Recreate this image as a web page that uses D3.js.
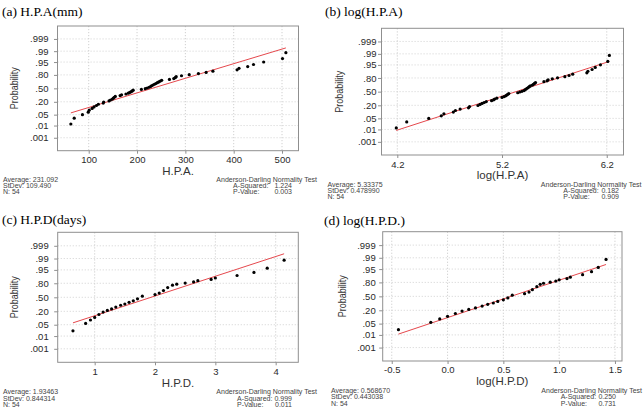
<!DOCTYPE html>
<html><head><meta charset="utf-8">
<script src="https://cdn.jsdelivr.net/npm/d3@7"></script>
<style>body{margin:0;background:#fff}svg{display:block}</style>
</head><body>
<svg id="chart" width="643" height="411"></svg>
<script>
// ---------------- data ----------------
const probTicks = [0.001, 0.01, 0.05, 0.20, 0.50, 0.80, 0.95, 0.99, 0.999];
const probTickLabels = [".001", ".01", ".05", ".20", ".50", ".80", ".95", ".99", ".999"];

const panelTitles = ["(a) H.P.A(mm)", "(b) log(H.P.A)", "(c) H.P.D(days)", "(d) log(H.P.D.)"];
const axisTitles = ["H.P.A.", "log(H.P.A)", "H.P.D.", "log(H.P.D)"];

const xTicksA = [100, 200, 300, 400, 500];
const xTicksB = [4.2, 5.2, 6.2];
const xTicksC = [1, 2, 3, 4];
const xTicksD = [-0.5, 0.0, 0.5, 1.0, 1.5];
const xTickLabelsA = ["100", "200", "300", "400", "500"];
const xTickLabelsB = ["4.2", "5.2", "6.2"];
const xTickLabelsC = ["1", "2", "3", "4"];
const xTickLabelsD = ["-0.5", "0.0", "0.5", "1.0", "1.5"];

const hpaValues = [63,70,87,99,101,107,111,116,120,130,131,142,145,149,151,153,155,165,168,177,
  182,185,188,190,192,209,217,221,225,228,230,233,236,239,242,245,248,251,267,276,
  279,281,292,308,327,343,357,407,411,429,441,462,501,508];

const logHpaValues = [4.19,4.29,4.50,4.62,4.645,4.735,4.755,4.80,4.88,4.89,4.97,4.99,5.01,5.03,5.05,
  5.10,5.12,5.13,5.15,5.20,5.22,5.235,5.245,5.255,5.265,5.35,5.37,5.39,5.41,5.42,5.43,5.44,5.45,
  5.46,5.47,5.49,5.50,5.51,5.52,5.60,5.63,5.64,5.68,5.73,5.80,5.84,5.875,6.01,6.02,6.06,6.09,
  6.14,6.21,6.225];

const hpdValues = [0.64,0.64,0.85,0.85,0.93,1.00,1.00,1.07,1.07,1.14,1.14,1.21,1.28,1.28,1.35,1.35,
  1.43,1.43,1.50,1.57,1.57,1.57,1.64,1.71,1.71,1.71,1.71,1.79,1.79,1.79,2.00,2.07,2.07,2.07,
  2.14,2.14,2.14,2.21,2.21,2.21,2.21,2.29,2.36,2.50,2.64,2.71,2.93,3.00,3.36,3.36,3.64,3.86,3.86,4.14];

const logHpdValues = [-0.44,-0.44,-0.15,-0.15,-0.07,0.00,0.00,0.07,0.07,0.13,0.13,0.19,0.25,0.25,
  0.31,0.31,0.36,0.36,0.41,0.45,0.45,0.45,0.50,0.54,0.54,0.54,0.54,0.58,0.58,0.58,0.69,0.73,0.73,
  0.73,0.76,0.76,0.76,0.80,0.80,0.80,0.80,0.83,0.86,0.92,0.97,1.00,1.07,1.10,1.21,1.21,1.29,1.35,1.35,1.42];

const averages = ["231.092", "5.33375", "1.93463", "0.568670"];
const meanValues = [231.092, 5.33375, 1.93463, 0.568670];
const stdevs = ["109.490", "0.478990", "0.844314", "0.443038"];
const sdValues = [109.490, 0.478990, 0.844314, 0.443038];
const counts = ["54", "54", "54", "54"];
const aSquared = ["1.224", "0.182", "0.999", "0.250"];
const pValues = ["0.003", "0.909", "0.011", "0.731"];

// ---------------- layout ----------------
const layout = [
  {x0:57.5, x1:298.5, y0:26,   y1:150.7, xDom:[35.4,534.1], tX:2,   tY:15.5,  probX:14,   gap:9, labY:163.4, axY:175,   foot:[181.5,187.7,193.9], fX:3,   adEnd:317, asX:233,   valEnd:292},
  {x0:381.5,x1:623.5, y0:28.3, y1:155,   xDom:[4.049,6.360],tX:325, tY:15.5,  probX:339,  gap:5, labY:167.5, axY:178.5, foot:[187,193.2,199.4],   fX:327.5,adEnd:641.5,asX:563.3,valEnd:619},
  {x0:57.7, x1:298.3, y0:232.3,y1:362.3, xDom:[0.387,4.375],tX:2,   tY:223.5, probX:14.3, gap:9, labY:375,   axY:386.8, foot:[394.2,400.7,407.3], fX:3,   adEnd:317, asX:237,   valEnd:292},
  {x0:382.7,x1:622,   y0:231.7,y1:361,   xDom:[-0.581,1.563],tX:324,tY:224.5, probX:341.7,gap:7, labY:373.4, axY:385,   foot:[392.6,399.2,405.8], fX:331, adEnd:642, asX:560.7, valEnd:616}
];

// inverse standard normal CDF (Acklam)
function qnorm(p) {
  const a=[-3.969683028665376e+01,2.209460984245205e+02,-2.759285104469687e+02,1.383577518672690e+02,-3.066479806614716e+01,2.506628277459239e+00];
  const b=[-5.447609879822406e+01,1.615858368580409e+02,-1.556989798598866e+02,6.680131188771972e+01,-1.328068155288572e+01];
  const c=[-7.784894002430293e-03,-3.223964580411365e-01,-2.400758277161838e+00,-2.549732539343734e+00,4.374664141464968e+00,2.938163982698783e+00];
  const d=[7.784695709041462e-03,3.224671290700398e-01,2.445134137142996e+00,3.754408661907416e+00];
  const pl=0.02425, ph=1-pl; let q, r;
  if (p < pl) { q=Math.sqrt(-2*Math.log(p)); return (((((c[0]*q+c[1])*q+c[2])*q+c[3])*q+c[4])*q+c[5])/((((d[0]*q+d[1])*q+d[2])*q+d[3])*q+1); }
  if (p <= ph) { q=p-0.5; r=q*q; return (((((a[0]*r+a[1])*r+a[2])*r+a[3])*r+a[4])*r+a[5])*q/(((((b[0]*r+b[1])*r+b[2])*r+b[3])*r+b[4])*r+1); }
  q=Math.sqrt(-2*Math.log(1-p)); return -(((((c[0]*q+c[1])*q+c[2])*q+c[3])*q+c[4])*q+c[5])/((((d[0]*q+d[1])*q+d[2])*q+d[3])*q+1);
}

// median-rank plotting positions, tied values share their average rank
function plotPositions(values) {
  const v = values.slice().sort((m, n) => m - n), n = v.length, out = [];
  let i = 0;
  while (i < n) {
    let j = i; while (j + 1 < n && v[j + 1] === v[i]) j++;
    const rank = (i + 1 + j + 1) / 2;
    out.push({x: v[i], p: (rank - 0.3) / (n + 0.4)});
    i = j + 1;
  }
  return out;
}

const datasets = [hpaValues, logHpaValues, hpdValues, logHpdValues];
const xTicksAll = [xTicksA, xTicksB, xTicksC, xTicksD];
const xLabelsAll = [xTickLabelsA, xTickLabelsB, xTickLabelsC, xTickLabelsD];

const svg = d3.select("#chart");
const sans = "'Liberation Sans', Arial, Helvetica, sans-serif";
const serif = "'Liberation Serif', 'Times New Roman', Times, serif";

layout.forEach((L, k) => {
  const g = svg.append("g");
  const x = d3.scaleLinear().domain(L.xDom).range([L.x0, L.x1]);
  const y = d3.scaleLinear().domain([-3.9, 3.9]).range([L.y1, L.y0]);
  const zTicks = probTicks.map(qnorm);

  // grid
  g.selectAll(".gx").data(xTicksAll[k]).join("line")
    .attr("x1", d => x(d)).attr("x2", d => x(d)).attr("y1", L.y0).attr("y2", L.y1)
    .attr("stroke", "#c4c4c4").attr("stroke-width", 0.8).attr("stroke-dasharray", "1.2,1.8");
  g.selectAll(".gy").data(zTicks).join("line")
    .attr("x1", L.x0).attr("x2", L.x1).attr("y1", d => y(d)).attr("y2", d => y(d))
    .attr("stroke", "#cfcfcf").attr("stroke-width", 0.8).attr("stroke-dasharray", "1.2,1.8");

  // frame
  g.append("rect").attr("x", L.x0).attr("y", L.y0).attr("width", L.x1 - L.x0).attr("height", L.y1 - L.y0)
    .attr("fill", "none").attr("stroke", "#8f8f8f").attr("stroke-width", 1);

  // axes
  const yAxis = d3.axisLeft(y).tickValues(zTicks).tickFormat((d, i) => probTickLabels[i])
    .tickSize(3.5).tickPadding(L.gap - 3.5);
  const ya = g.append("g").attr("transform", `translate(${L.x0},0)`).call(yAxis);
  const xAxis = d3.axisBottom(x).tickValues(xTicksAll[k]).tickFormat((d, i) => xLabelsAll[k][i])
    .tickSize(3).tickPadding(L.labY - L.y1 - 3 - 6.7);
  const xa = g.append("g").attr("transform", `translate(0,${L.y1})`).call(xAxis);
  [ya, xa].forEach(a => {
    a.select(".domain").remove();
    a.selectAll(".tick line").attr("stroke", "#8f8f8f");
    a.selectAll(".tick text").attr("fill", "#2a2a2a").style("font-family", sans).style("font-size", "9.5px");
  });

  // fitted normal line
  const data = plotPositions(datasets[k]);
  const ext = d3.extent(datasets[k]);
  const line = d3.line().x(d => x(d)).y(d => y((d - meanValues[k]) / sdValues[k]));
  g.append("path").attr("d", line(ext)).attr("fill", "none").attr("stroke", "#e5484d").attr("stroke-width", 1);

  // points
  g.selectAll(".pt").data(data).join("circle")
    .attr("cx", d => x(d.x)).attr("cy", d => y(qnorm(d.p))).attr("r", 1.6).attr("fill", "#000");

  // titles
  g.append("text").attr("x", L.tX).attr("y", L.tY).text(panelTitles[k])
    .style("font-family", serif).style("font-size", "13.5px").attr("fill", "#000");
  g.append("text").attr("x", (L.x0 + L.x1) / 2).attr("y", L.axY).attr("text-anchor", "middle")
    .text(axisTitles[k]).style("font-family", sans).style("font-size", "11.5px").attr("fill", "#333");
  const cy = (L.y0 + L.y1) / 2;
  g.append("text").attr("transform", `translate(${L.probX},${cy}) rotate(-90)`).attr("dy", "0.35em")
    .attr("text-anchor", "middle").attr("textLength", 42).attr("lengthAdjust", "spacingAndGlyphs")
    .text("Probability").style("font-family", sans).style("font-size", "11.5px").attr("fill", "#333");

  // footer stats
  const fs = (t, xx, yy, anchor) => g.append("text").attr("x", xx).attr("y", yy).attr("text-anchor", anchor)
    .text(t).style("font-family", sans).style("font-size", "7px").attr("fill", "#444");
  fs("Average: " + averages[k], L.fX, L.foot[0], "start");
  fs("StDev: " + stdevs[k], L.fX, L.foot[1], "start");
  fs("N: " + counts[k], L.fX, L.foot[2], "start");
  fs("Anderson-Darling Normality Test", L.adEnd, L.foot[0], "end");
  fs("A-Squared:", L.asX, L.foot[1], "start");
  fs(aSquared[k], L.valEnd, L.foot[1], "end");
  fs("P-Value:", L.asX, L.foot[2], "start");
  fs(pValues[k], L.valEnd, L.foot[2], "end");
});
</script>
</body></html>
